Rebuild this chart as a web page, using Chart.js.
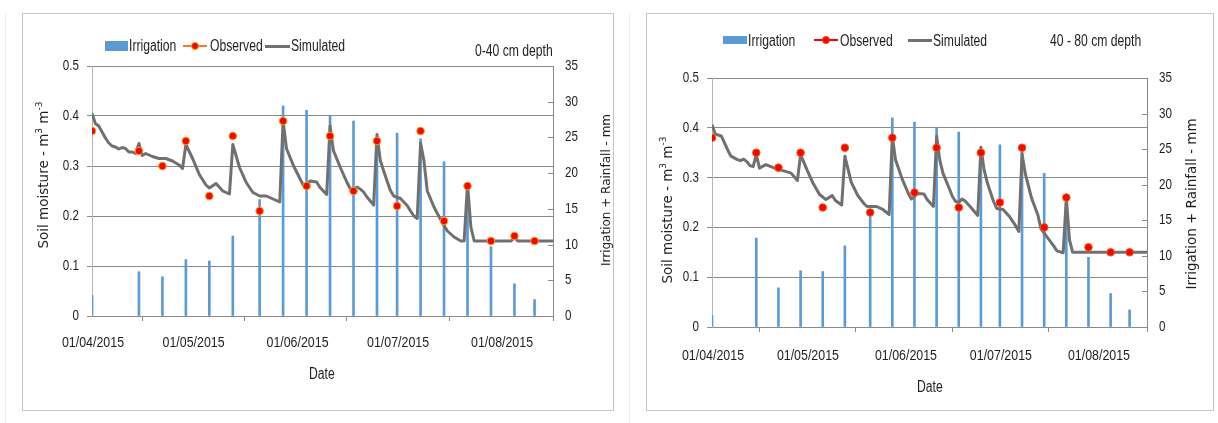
<!DOCTYPE html>
<html>
<head>
<meta charset="utf-8">
<script src="https://cdn.jsdelivr.net/npm/chart.js@4/dist/chart.umd.min.js"></script>
<style>
body { margin: 0; background: #fff; width: 1218px; height: 423px; position: relative; overflow: hidden;
  font-family: 'Liberation Sans', Arial, sans-serif; color: #1e1e1e; }
.panel { position: absolute; top: 13px; height: 398px; border: 1px solid #c4c4c4; box-sizing: border-box; }
.faint { position: absolute; top: 13px; height: 410px; width: 1px; background: #ececec; }
canvas { position: absolute; }
.t { position: absolute; white-space: nowrap; font-size: 16px; line-height: 1;
  transform-origin: 0 50%; transform: translateY(-50%) scaleX(0.76); }
.vt { position: absolute; white-space: nowrap; font-family: 'DejaVu Sans', sans-serif; font-size: 13.5px; line-height: 1;
  transform: translate(-50%, -50%) rotate(-90deg); }
.vt sup { font-size: 9px; vertical-align: 6px; }
.sw { position: absolute; background: #5b9bd5; }
.ln { position: absolute; }
.dot { position: absolute; width: 8px; height: 8px; border-radius: 50%; background: #ff0000; box-sizing: border-box; }
</style>
</head>
<body>
<div class="faint" style="left:5px"></div>
<div class="faint" style="left:629px"></div>

<canvas id="top" width="592" height="398" style="left:22px;top:13px;width:592px;height:398px"></canvas>
<div class="panel" style="left:22px;width:592px"></div>
<canvas id="sub" width="568" height="398" style="left:646px;top:13px;width:568px;height:398px"></canvas>
<div class="panel" style="left:646px;width:568px"></div>

<!-- left panel legend and labels -->
<div class="sw" style="left:105px;top:41px;width:23px;height:10px"></div>
<div class="t" style="left:129px;top:46px">Irrigation</div>
<div class="ln" style="left:183px;top:45px;width:24px;height:2px;background:#ed7d31"></div>
<div class="dot" style="left:191px;top:42px;border:1px solid #ff9a00"></div>
<div class="t" style="left:210px;top:46px">Observed</div>
<div class="ln" style="left:265px;top:45px;width:25px;height:3px;background:#707070"></div>
<div class="t" style="left:291px;top:46px">Simulated</div>
<div class="t" style="left:475px;top:51px">0-40 cm depth</div>
<div class="t" style="left:309px;top:374px">Date</div>
<div class="vt" style="left:43px;top:175px">Soil moisture - m<sup>3</sup> m<sup>-3</sup></div>
<div class="vt" style="left:606px;top:190px;font-size:12px">Irrigation + Rainfall - mm</div>

<!-- right panel legend and labels -->
<div class="sw" style="left:723px;top:36px;width:24px;height:8px"></div>
<div class="t" style="left:748px;top:41px">Irrigation</div>
<div class="ln" style="left:814px;top:39px;width:24px;height:2px;background:#ff0000"></div>
<div class="dot" style="left:822px;top:36px;border:1px solid #ff3b00"></div>
<div class="t" style="left:840px;top:41px">Observed</div>
<div class="ln" style="left:908px;top:39px;width:24px;height:3px;background:#707070"></div>
<div class="t" style="left:933px;top:41px">Simulated</div>
<div class="t" style="left:1050px;top:41px">40 - 80 cm depth</div>
<div class="t" style="left:917px;top:387px">Date</div>
<div class="vt" style="left:667px;top:210px">Soil moisture - m<sup>3</sup> m<sup>-3</sup></div>
<div class="vt" style="left:1192px;top:204px">Irrigation + Rainfall - mm</div>

<script>
'use strict'
// dates are dd/mm in 2015, x positions are days after 01/04/2015
const start = Date.UTC(2015, 3, 1)
function dayOf(s) {
    const p = s.split('/').map(Number)
    return (Date.UTC(2015, p[1] - 1, p[0]) - start) / 864e5
}

const monthTicks = ['01/04/2015', '01/05/2015', '01/06/2015', '01/07/2015', '01/08/2015']
const soilTicks = [0, 0.1, 0.2, 0.3, 0.4, 0.5]
const waterTicks = [0, 5, 10, 15, 20, 25, 30, 35]
const lastDay = 137.5

// irrigation / sampling dates
const eventDates = ['01/04', '15/04', '22/04', '29/04', '06/05', '13/05', '21/05', '28/05', '04/06', '11/06',
    '18/06', '25/06', '01/07', '08/07', '15/07', '22/07', '29/07', '05/08', '11/08']

// 0-40 cm
const irrigTop = [2.9, 6.2, 5.5, 7.9, 7.7, 11.2, 16.3, 29.4, 28.8, 28.0, 27.3, 25.0, 25.6, 24.8, 21.6, 18.0, 9.7, 4.5, 2.3]
const obsTop = [0.37, 0.33, 0.30, 0.35, 0.24, 0.36, 0.21, 0.39, 0.26, 0.36, 0.25, 0.35, 0.22, 0.37, 0.19, 0.26, 0.15, 0.16, 0.15]
const simDayTop = [0, 1, 2, 3, 4, 5, 6, 7, 8, 9, 10, 11, 12, 13, 14, 15, 16, 18, 20, 22, 24, 26, 27,
    28, 30, 32, 34, 35, 37, 39, 41, 42, 44, 46, 48, 50, 52, 54, 56,
    57, 58, 60, 62, 63, 64, 65, 67, 68, 70,
    71, 72, 74, 76, 77, 78, 79, 80, 81, 82, 84,
    85, 86, 87, 88, 89, 90, 92, 94, 95, 96, 97,
    98, 99, 100, 102, 103, 105, 106, 108, 110, 111,
    112, 113, 114, 125, 126, 127, 138]
const simTop = [0.405, 0.385, 0.380, 0.368, 0.356, 0.346, 0.340, 0.338, 0.334, 0.337, 0.335, 0.328, 0.328, 0.325, 0.345, 0.321, 0.325, 0.319, 0.315, 0.315, 0.310, 0.302, 0.295,
    0.343, 0.315, 0.283, 0.262, 0.256, 0.265, 0.250, 0.244, 0.343, 0.297, 0.267, 0.247, 0.240, 0.240, 0.234, 0.228,
    0.390, 0.335, 0.302, 0.275, 0.262, 0.258, 0.270, 0.268, 0.257, 0.243,
    0.380, 0.331, 0.298, 0.268, 0.255, 0.251, 0.258, 0.254, 0.248, 0.238, 0.222,
    0.363, 0.311, 0.290, 0.270, 0.251, 0.240, 0.235, 0.221, 0.210, 0.200, 0.195,
    0.346, 0.311, 0.250, 0.218, 0.205, 0.181, 0.170, 0.158, 0.150, 0.150,
    0.265, 0.178, 0.150, 0.150, 0.157, 0.150, 0.150]

// 40-80 cm
const irrigSub = [1.6, 12.5, 5.5, 7.9, 7.8, 11.4, 16.3, 29.4, 28.8, 28.0, 27.4, 25.0, 25.6, 24.8, 21.6, 18.0, 9.8, 4.7, 2.4]
const obsSub = [0.38, 0.35, 0.32, 0.35, 0.24, 0.36, 0.23, 0.38, 0.27, 0.36, 0.24, 0.35, 0.25, 0.36, 0.20, 0.26, 0.16, 0.15, 0.15]
const simDaySub = [0, 1, 3, 5, 6, 8, 9, 10, 11, 12, 13, 14, 15, 17, 19, 21, 23, 25, 27,
    28, 30, 32, 34, 36, 38, 39, 41, 42, 44, 46, 48, 49, 52, 54, 56,
    57, 58, 60, 62, 63, 65, 67, 68, 70,
    71, 72, 73, 75, 76, 77, 78, 79, 80, 82, 84,
    85, 86, 87, 89, 90, 92, 94, 96, 97,
    98, 99, 101, 103, 104, 106, 108, 109, 111,
    112, 113, 114, 125, 126, 127, 138]
const simSub = [0.406, 0.388, 0.383, 0.355, 0.343, 0.336, 0.334, 0.337, 0.332, 0.324, 0.322, 0.346, 0.319, 0.326, 0.321, 0.316, 0.313, 0.309, 0.294,
    0.346, 0.316, 0.288, 0.266, 0.256, 0.264, 0.254, 0.245, 0.343, 0.291, 0.265, 0.248, 0.242, 0.242, 0.236, 0.226,
    0.383, 0.336, 0.299, 0.269, 0.257, 0.268, 0.267, 0.256, 0.242,
    0.383, 0.335, 0.309, 0.278, 0.262, 0.252, 0.250, 0.257, 0.253, 0.239, 0.224,
    0.361, 0.316, 0.290, 0.252, 0.238, 0.236, 0.222, 0.203, 0.192,
    0.348, 0.309, 0.259, 0.225, 0.197, 0.180, 0.163, 0.153, 0.149,
    0.260, 0.175, 0.150, 0.150, 0.152, 0.150, 0.150]

const labelFamily = "'Liberation Sans', Arial, sans-serif"
const gridGrey = '#8a8a8a'
const soilLabel = v => v === 0 ? '0' : v.toFixed(1)

// inward tick marks on the right axis, plus narrow tick labels
// (the original figure was squeezed sideways, so its text is condensed)
const axisDecor = {
    id: 'axisDecor',
    afterDraw(chart, args, opts) {
        const ctx = chart.ctx
        const { x, y, y1 } = chart.scales
        ctx.save()
        ctx.strokeStyle = gridGrey
        ctx.lineWidth = 1
        y1.ticks.forEach(t => {
            const py = Math.round(y1.getPixelForValue(t.value)) + 0.5
            ctx.beginPath()
            ctx.moveTo(y1.left - 5, py)
            ctx.lineTo(y1.left, py)
            ctx.stroke()
        })
        ctx.fillStyle = '#1e1e1e'
        const put = (text, px, py, align, size) => {
            ctx.save()
            ctx.translate(px, py)
            ctx.scale(0.8, 1)
            ctx.font = size + 'px ' + labelFamily
            ctx.textAlign = align
            ctx.textBaseline = 'middle'
            ctx.fillText(text, 0, 0)
            ctx.restore()
        }
        x.ticks.forEach((t, i) => put(monthTicks[i], x.getPixelForValue(t.value) + 1, x.top + opts.xOff, 'center', 15.5))
        y.ticks.forEach(t => put(soilLabel(t.value), y.right - 13, y.getPixelForValue(t.value), 'right', 14.5))
        y1.ticks.forEach(t => put(String(t.value), y1.left + 12, y1.getPixelForValue(t.value), 'left', 14.5))
        ctx.restore()
    }
}

function makeChart(id, p) {
    const pts = (dates, vals) => dates.map((d, i) => ({ x: dayOf(d), y: vals[i] }))
    return new Chart(document.getElementById(id), {
        type: 'bar',
        data: {
            datasets: [{
                type: 'bar',
                label: 'Irrigation',
                data: pts(eventDates, p.irrig),
                yAxisID: 'y1',
                backgroundColor: '#5b9bd5',
                barThickness: 2,
                order: 3
            }, {
                type: 'line',
                label: 'Simulated',
                data: p.simDays.map((d, i) => ({ x: d, y: p.sim[i] })),
                yAxisID: 'y',
                borderColor: '#707070',
                borderWidth: 3,
                pointRadius: 0,
                tension: 0,
                borderJoinStyle: 'round',
                order: 2
            }, {
                type: 'line',
                label: 'Observed',
                data: pts(eventDates, p.obs),
                yAxisID: 'y',
                showLine: false,
                pointRadius: 3.8,
                pointBackgroundColor: '#ff0000',
                pointBorderColor: p.rim,
                pointBorderWidth: 1,
                order: 1
            }]
        },
        options: {
            responsive: false,
            animation: false,
            layout: { padding: { top: p.top, left: 0, right: 0, bottom: 0 } },
            plugins: { legend: { display: false }, tooltip: { enabled: false }, axisDecor: { xOff: p.xOff } },
            scales: {
                x: {
                    type: 'linear', min: 0, max: lastDay, offset: false,
                    afterBuildTicks: s => { s.ticks = monthTicks.map(t => ({ value: dayOf(t.slice(0, 5)) })) },
                    afterFit: s => { s.height = p.xH },
                    ticks: { display: false },
                    grid: { drawOnChartArea: false, drawTicks: true, tickLength: 5, color: gridGrey },
                    border: { color: gridGrey }
                },
                y: {
                    position: 'left', min: 0, max: 0.5,
                    afterBuildTicks: s => { s.ticks = soilTicks.map(v => ({ value: v })) },
                    afterFit: s => { s.width = p.yW },
                    ticks: { display: false },
                    grid: { color: gridGrey, tickLength: 5 },
                    border: { color: '#b4b4b4' }
                },
                y1: {
                    position: 'right', min: 0, max: 35,
                    afterBuildTicks: s => { s.ticks = waterTicks.map(v => ({ value: v })) },
                    afterFit: s => { s.width = p.y1W },
                    ticks: { display: false },
                    grid: { drawOnChartArea: false, drawTicks: false },
                    border: { color: gridGrey }
                }
            }
        },
        plugins: [axisDecor]
    })
}

makeChart('top', { irrig: irrigTop, obs: obsTop, simDays: simDayTop, sim: simTop, rim: '#ff9a00',
    top: 53, xH: 95, yW: 70, y1W: 61, xOff: 27 })
makeChart('sub', { irrig: irrigSub, obs: obsSub, simDays: simDaySub, sim: simSub, rim: '#ff5a00',
    top: 65, xH: 84, yW: 66, y1W: 67, xOff: 29 })
</script>
</body>
</html>
